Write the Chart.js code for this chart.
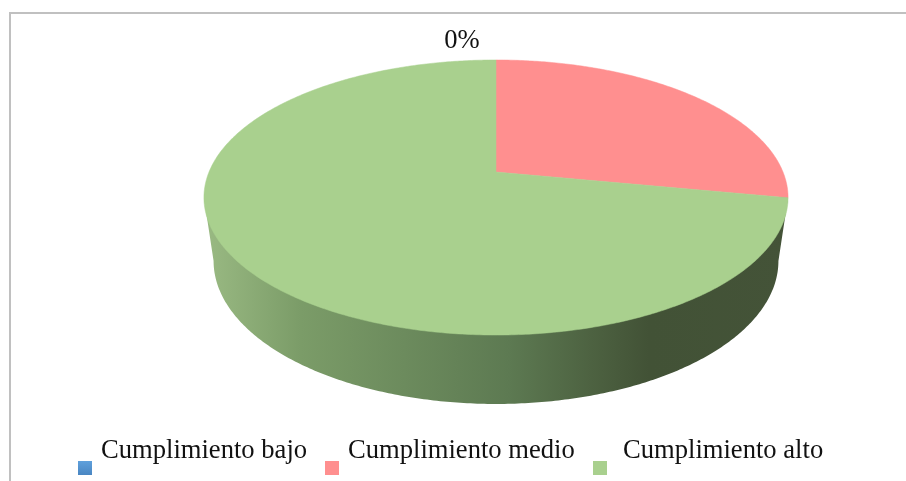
<!DOCTYPE html>
<html lang="es">
<head>
<meta charset="utf-8">
<title>Cumplimiento</title>
<script src="https://cdn.jsdelivr.net/npm/chart.js@4"></script>
<style>
  html, body { margin: 0; padding: 0; background: #fff; overflow: hidden; }
  canvas { display: block; }
</style>
</head>
<body>
<canvas id="grafica" width="906" height="481"></canvas>
<script>
const categorias = ["Cumplimiento bajo", "Cumplimiento medio", "Cumplimiento alto"];
const porcentajes = [0, 28, 72];
const colores = ["#5b9bd5", "#ff8f8f", "#a9d08e"];

const fuente = '26.6px "Liberation Serif"';

// Perspectiva del disco: el circulo de la torta se proyecta a una elipse
const K = 0.1854;
const ESCALA_X = 287 / 172;
const ESCALA_Y = 132.8 / 172;
// La base es un poco mas angosta y mas redonda que la cara superior
const BASE_X = 0.967;
const BASE_Y = 1.04;
const BASE_DY = 62.4;

function proyectar(el, angulo, ex, ey, dy) {
  const u = Math.cos(angulo);
  const v = Math.sin(angulo);
  const w = 1 - K * v;
  return {
    x: el.x + (el.outerRadius * ESCALA_X * ex * u) / w,
    y: el.y + dy + (el.outerRadius * ESCALA_Y * ey * v) / w,
  };
}

function trazarArco(ctx, el, desde, hasta, ex, ey, dy) {
  const pasos = Math.max(2, Math.ceil(Math.abs(hasta - desde) / 0.01));
  for (let i = 0; i <= pasos; i++) {
    const p = proyectar(el, desde + ((hasta - desde) * i) / pasos, ex, ey, dy);
    ctx.lineTo(p.x, p.y);
  }
}

const marco = {
  id: "marco",
  beforeDraw(chart) {
    const ctx = chart.ctx;
    ctx.save();
    ctx.strokeStyle = "#c0c0c0";
    ctx.lineWidth = 2;
    ctx.beginPath();
    ctx.moveTo(10, 481);
    ctx.lineTo(10, 13);
    ctx.lineTo(906, 13);
    ctx.stroke();
    ctx.restore();
  },
};

// Dibuja las porciones en 3D con los angulos que calcula Chart.js
const torta3d = {
  id: "torta3d",
  beforeDatasetsDraw(chart) {
    const ctx = chart.ctx;
    const arcos = chart.getDatasetMeta(0).data;
    const el = arcos[0];
    const lado = Math.asin(K);

    const pared = ctx.createLinearGradient(204, 0, 789, 0);
    pared.addColorStop(0, "#9aba83");
    pared.addColorStop(0.165, "#7b9c68");
    pared.addColorStop(0.52, "#5d7a52");
    pared.addColorStop(0.68, "#4b5f3f");
    pared.addColorStop(0.76, "#425236");
    pared.addColorStop(1, "#445338");

    ctx.save();
    ctx.beginPath();
    const inicio = proyectar(el, lado, 1, 1, 0);
    ctx.moveTo(inicio.x, inicio.y);
    trazarArco(ctx, el, lado, Math.PI - lado, BASE_X, BASE_Y, BASE_DY);
    const fin = proyectar(el, Math.PI - lado, 1, 1, 0);
    ctx.lineTo(fin.x, fin.y);
    ctx.closePath();
    ctx.fillStyle = pared;
    ctx.fill();

    arcos.forEach((arco, i) => {
      if (arco.endAngle - arco.startAngle <= 0) return;
      ctx.beginPath();
      ctx.moveTo(arco.x, arco.y);
      trazarArco(ctx, arco, arco.startAngle, arco.endAngle, 1, 1, 0);
      ctx.closePath();
      ctx.fillStyle = colores[i];
      ctx.fill();
      // evita la linea clara entre porciones
      ctx.strokeStyle = colores[i];
      ctx.lineWidth = 0.5;
      ctx.stroke();
    });
    ctx.restore();
    return false;
  },
};

const textos = {
  id: "textos",
  afterDraw(chart) {
    const ctx = chart.ctx;
    const total = porcentajes.reduce((a, b) => a + b, 0);
    const cuadroX = [78, 325, 593];
    const textoX = [101, 348, 623];

    ctx.save();
    ctx.font = fuente;
    ctx.fillStyle = "#111";
    ctx.textBaseline = "alphabetic";
    ctx.textAlign = "center";
    ctx.fillText(Math.round((porcentajes[0] / total) * 100) + "%", 462, 48);

    ctx.textAlign = "left";
    categorias.forEach((nombre, i) => {
      if (i === 0) {
        // el cuadro azul lleva un degradado suave
        const azul = ctx.createLinearGradient(0, 461, 0, 475);
        azul.addColorStop(0, "#5fa0dc");
        azul.addColorStop(1, "#4a86c2");
        ctx.fillStyle = azul;
      } else {
        ctx.fillStyle = colores[i];
      }
      ctx.fillRect(cuadroX[i], 461, 14, 14);
      ctx.fillStyle = "#111";
      ctx.fillText(nombre, textoX[i], 458);
    });
    ctx.restore();
  },
};

new Chart(document.getElementById("grafica"), {
  type: "pie",
  data: {
    labels: categorias,
    datasets: [
      {
        data: porcentajes,
        backgroundColor: colores,
        borderWidth: 0,
      },
    ],
  },
  options: {
    responsive: false,
    animation: false,
    layout: { padding: { left: 86, bottom: 137 } },
    plugins: {
      legend: { display: false },
      tooltip: { enabled: false },
    },
  },
  plugins: [marco, torta3d, textos],
});
</script>
</body>
</html>
